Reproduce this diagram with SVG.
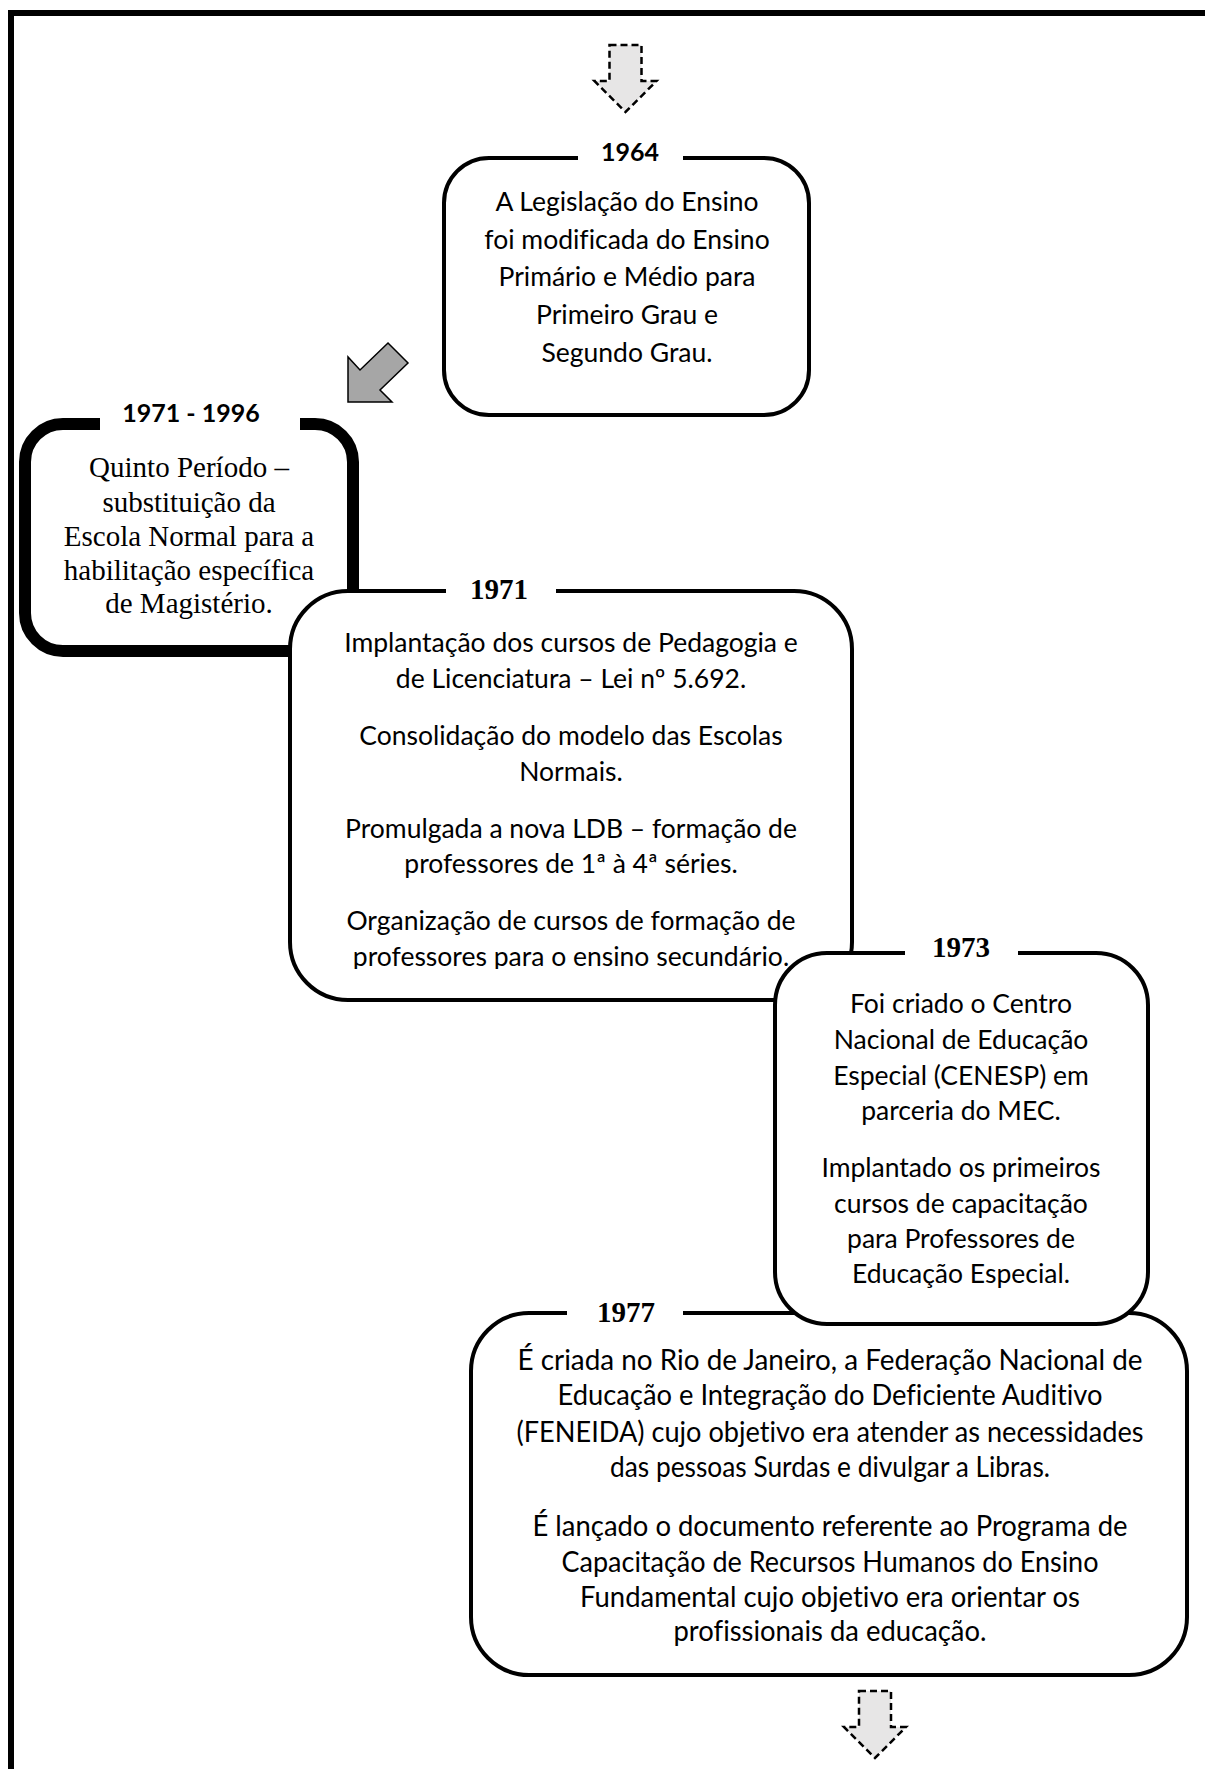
<svg xmlns="http://www.w3.org/2000/svg" width="1205" height="1769" viewBox="0 0 1205 1769">
  <style>
    .frame { stroke: #000; stroke-width: 6; fill: none; }
    .box { fill: #fff; stroke: #000; stroke-width: 4; }
    .box-heavy { fill: #fff; stroke: #000; stroke-width: 12; }
    .sans { font-family: Lato, "Open Sans", "Liberation Sans", sans-serif; font-size: 26.5px; fill: #000; text-anchor: middle; font-variant-ligatures: none; }
    .narrow { font-size: 28px; }
    .serif { font-family: "Liberation Serif", "Times New Roman", serif; font-size: 29px; fill: #000; text-anchor: middle; }
    .title-sans { font-family: Lato, "Open Sans", "Liberation Sans", sans-serif; font-weight: bold; font-size: 25px; fill: #000; text-anchor: middle; }
    .title-serif { font-family: "Liberation Serif", "Times New Roman", serif; font-weight: bold; font-size: 29px; fill: #000; text-anchor: middle; }
    .flow { fill: #e7e6e6; stroke: #000; stroke-width: 2.5; stroke-dasharray: 7 4; stroke-linejoin: miter; }
    .pointer { fill: #a6a6a6; stroke: #000; stroke-width: 1.5; stroke-linejoin: miter; }
  </style>
  <defs>
    <path id="down-arrow" d="M-16,0 H16 V36 H31 L0,67 L-31,36 H-16 Z"/>
    <clipPath id="clip-1971">
      <rect x="290" y="591" width="562" height="378"/>
    </clipPath>
  </defs>

  <!-- page frame: top and left rules -->
  <g id="frame">
    <line class="frame" x1="8" y1="13" x2="1205" y2="13"/>
    <line class="frame" x1="11" y1="10" x2="11" y2="1769"/>
  </g>

  <!-- 1964 -->
  <g id="node-1964">
    <path class="box" d="M683,158 H764 A45,45 0 0 1 809,203 V370 A45,45 0 0 1 764,415 H489 A45,45 0 0 1 444,370 V203 A45,45 0 0 1 489,158 H578"/>
    <text class="title-sans" x="630" y="161">1964</text>
    <text class="sans" x="627" y="211">A Legislação do Ensino</text>
    <text class="sans" x="627" y="248.5">foi modificada do Ensino</text>
    <text class="sans" x="627" y="286">Primário e Médio para</text>
    <text class="sans" x="627" y="324">Primeiro Grau e</text>
    <text class="sans" x="627" y="362">Segundo Grau.</text>
  </g>

  <!-- 1971 - 1996 -->
  <g id="node-1971-1996">
    <path class="box-heavy" d="M300,424 H315 A38,38 0 0 1 353,462 V613 A38,38 0 0 1 315,651 H63 A38,38 0 0 1 25,613 V462 A38,38 0 0 1 63,424 H100"/>
    <text class="title-sans" x="191" y="422">1971 - 1996</text>
    <text class="serif" x="189" y="477">Quinto Período –</text>
    <text class="serif" x="189" y="512">substituição da</text>
    <text class="serif" x="189" y="546">Escola Normal para a</text>
    <text class="serif" x="189" y="580">habilitação específica</text>
    <text class="serif" x="189" y="613">de Magistério.</text>
  </g>

  <!-- 1971 -->
  <g id="node-1971">
    <path class="box" d="M556,591 H794 A58,58 0 0 1 852,649 V942 A58,58 0 0 1 794,1000 H348 A58,58 0 0 1 290,942 V649 A58,58 0 0 1 348,591 H446"/>
    <text class="title-serif" x="499" y="599">1971</text>
    <g clip-path="url(#clip-1971)">
      <text class="sans" x="571" y="652">Implantação dos cursos de Pedagogia e</text>
      <text class="sans" x="571" y="688">de Licenciatura – Lei nº 5.692.</text>
      <text class="sans" x="571" y="745">Consolidação do modelo das Escolas</text>
      <text class="sans" x="571" y="781">Normais.</text>
      <text class="sans" x="571" y="838">Promulgada a nova LDB – formação de</text>
      <text class="sans" x="571" y="873">professores de 1ª à 4ª séries.</text>
      <text class="sans" x="571" y="930">Organização de cursos de formação de</text>
      <text class="sans" x="571" y="966">professores para o ensino secundário.</text>
    </g>
  </g>

  <!-- 1977 -->
  <g id="node-1977">
    <path class="box" d="M683,1313 H1129 A58,58 0 0 1 1187,1371 V1617 A58,58 0 0 1 1129,1675 H529 A58,58 0 0 1 471,1617 V1371 A58,58 0 0 1 529,1313 H567"/>
    <text class="title-serif" x="626" y="1322">1977</text>
    <text class="sans narrow" x="830" y="1370" textLength="625" lengthAdjust="spacingAndGlyphs">É criada no Rio de Janeiro, a Federação Nacional de</text>
    <text class="sans narrow" x="830" y="1405" textLength="545" lengthAdjust="spacingAndGlyphs">Educação e Integração do Deficiente Auditivo</text>
    <text class="sans narrow" x="830" y="1442" textLength="627" lengthAdjust="spacingAndGlyphs">(FENEIDA) cujo objetivo era atender as necessidades</text>
    <text class="sans narrow" x="830" y="1477" textLength="440" lengthAdjust="spacingAndGlyphs">das pessoas Surdas e divulgar a Libras.</text>
    <text class="sans narrow" x="830" y="1536" textLength="595" lengthAdjust="spacingAndGlyphs">É lançado o documento referente ao Programa de</text>
    <text class="sans narrow" x="830" y="1572" textLength="537" lengthAdjust="spacingAndGlyphs">Capacitação de Recursos Humanos do Ensino</text>
    <text class="sans narrow" x="830" y="1607" textLength="500" lengthAdjust="spacingAndGlyphs">Fundamental cujo objetivo era orientar os</text>
    <text class="sans narrow" x="830" y="1641" textLength="313" lengthAdjust="spacingAndGlyphs">profissionais da educação.</text>
  </g>

  <!-- 1973 -->
  <g id="node-1973">
    <path class="box" d="M1018,953 H1096 A52,52 0 0 1 1148,1005 V1272 A52,52 0 0 1 1096,1324 H827 A52,52 0 0 1 775,1272 V1005 A52,52 0 0 1 827,953 H905"/>
    <text class="title-serif" x="961" y="957">1973</text>
    <text class="sans" x="961" y="1013">Foi criado o Centro</text>
    <text class="sans" x="961" y="1049">Nacional de Educação</text>
    <text class="sans" x="961" y="1085">Especial (CENESP) em</text>
    <text class="sans" x="961" y="1120">parceria do MEC.</text>
    <text class="sans" x="961" y="1177">Implantado os primeiros</text>
    <text class="sans" x="961" y="1213">cursos de capacitação</text>
    <text class="sans" x="961" y="1248">para Professores de</text>
    <text class="sans" x="961" y="1283">Educação Especial.</text>
  </g>

  <!-- connectors -->
  <g id="connectors">
    <use href="#down-arrow" class="flow" transform="translate(625.5,45)"/>
    <polygon class="pointer" points="348,357 348,402 392,402 380,390 408,363 388,343 360,370"/>
    <use href="#down-arrow" class="flow" transform="translate(875,1691)"/>
  </g>
</svg>
